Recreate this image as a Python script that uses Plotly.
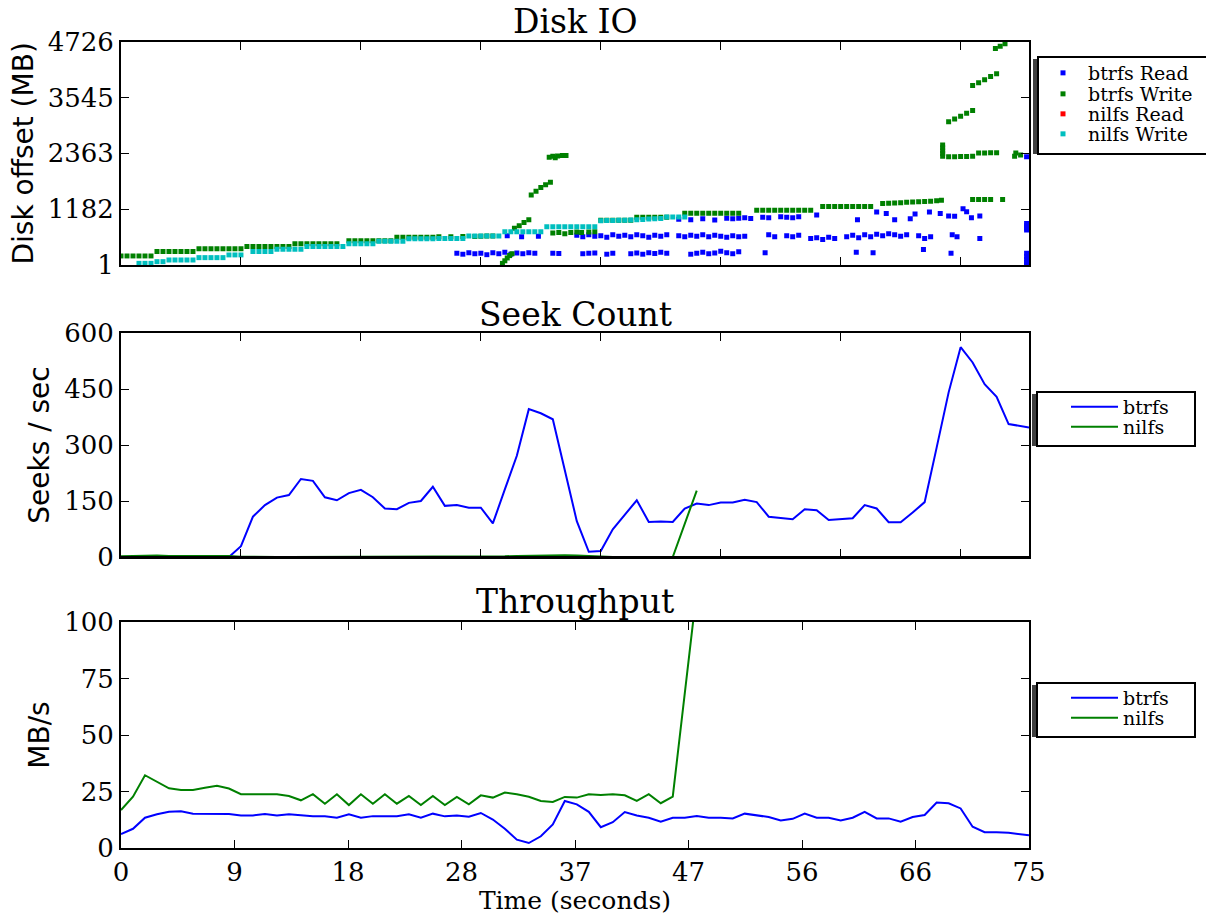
import plotly.graph_objects as go

# ---------------- data ----------------
T_END = 75.7  # last sample time (seconds)

# Seek count (seeks / sec), one sample per second
btrfs_seek_t = list(range(75)) + [T_END]
btrfs_seek = [0, 0, 0, 0, 0, 0, 0, 0, 0, 0,
              29, 108, 139, 159, 166, 209, 204, 160, 152, 171,
              180, 160, 130, 128, 145, 150, 188, 137, 139, 132,
              132, 90, 181, 271, 396, 385, 369, 231, 96, 14,
              16, 74, 114, 152, 94, 95, 94, 130, 143, 139,
              146, 146, 153, 147, 108, 105, 101, 128, 125, 99,
              102, 104, 139, 130, 93, 93, 119, 147, 293, 441,
              562, 521, 463, 429, 356, 347]
nilfs_seek_t = list(range(47)) + [48]
nilfs_seek = [2, 3, 4, 4, 3, 3, 2, 3, 4, 3,
              1, 0, 0, 0, 0, 0, 0, 0, 0, 0,
              0, 0, 0, 0, 0, 0, 0, 0, 0, 0,
              1, 2, 2, 3, 4, 5, 6, 5, 4, 2,
              0, 0, 0, 0, 0, 0, 0, 178]

# Throughput (MB/s)
btrfs_tput_t = list(range(75)) + [T_END]
btrfs_tput = [6.2, 8.5, 13.4, 14.9, 16.0, 16.3, 15.2, 15.2, 14.9, 15.0,
              14.4, 14.4, 15.0, 14.4, 14.9, 14.3, 14.0, 14.0, 13.4, 14.9,
              13.4, 14.1, 14.1, 14.1, 14.9, 13.4, 15.2, 14.0, 14.4, 13.8,
              15.5, 12.6, 8.5, 3.7, 2.2, 5.2, 10.4, 20.8, 19.3, 16.0,
              9.2, 11.4, 15.9, 14.4, 13.4, 11.6, 13.4, 13.4, 14.1, 13.4,
              13.4, 13.1, 15.2, 14.4, 13.7, 12.2, 12.9, 15.2, 13.4, 13.4,
              12.2, 13.4, 16.0, 13.1, 13.1, 11.6, 13.7, 14.6, 20.1, 19.8,
              17.5, 9.4, 7.0, 7.0, 6.7, 5.6]
nilfs_tput_t = list(range(47)) + [48]
nilfs_tput = [16.8, 22.7, 32.2, 29.3, 26.4, 25.7, 25.7, 26.7, 27.5, 26.3,
              23.8, 23.8, 23.8, 23.8, 23.0, 21.1, 23.8, 19.6, 23.8, 19.0,
              23.8, 19.6, 23.8, 19.6, 23.0, 19.0, 23.0, 19.0, 22.6, 19.3,
              23.3, 22.3, 24.5, 23.8, 22.7, 20.8, 20.4, 22.6, 22.3, 23.8,
              23.5, 23.8, 23.3, 20.8, 23.8, 19.8, 22.7, 114]

# Disk IO requests: (time s, disk offset MB)
btrfs_read_pts = [
    # lower band
    (28.0, 250), (28.5, 230), (29.0, 260), (29.5, 240), (30.0, 250), (30.5, 220),
    (31.0, 260), (31.5, 240), (32.0, 270), (32.5, 230), (33.0, 255), (33.5, 240),
    (34.0, 260), (34.5, 250), (36.0, 250), (36.5, 245), (38.5, 240), (39.0, 250),
    (39.5, 255), (40.5, 230), (41.0, 250), (42.5, 240), (43.0, 255), (43.5, 230),
    (44.0, 260), (44.5, 245), (45.0, 270), (45.5, 250), (47.5, 230), (48.0, 250),
    (48.5, 270), (49.0, 240), (49.5, 255), (50.0, 290), (50.5, 260), (51.0, 240),
    (51.5, 280), (53.7, 260), (61.3, 270), (62.7, 260), (66.9, 330), (69.2, 250),
    # middle band
    (32.2, 620), (33.4, 600), (34.8, 610), (38.0, 630), (38.5, 600), (39.0, 640),
    (39.5, 610), (40.0, 620), (40.5, 590), (41.0, 640), (41.5, 610), (42.0, 630),
    (42.5, 600), (43.0, 640), (43.5, 620), (44.0, 590), (44.5, 630), (45.0, 610),
    (45.5, 640), (46.5, 620), (47.0, 600), (47.5, 630), (48.0, 610), (48.5, 640),
    (49.0, 600), (49.5, 630), (50.0, 610), (50.5, 590), (51.0, 620), (51.5, 600),
    (52.0, 610), (54.0, 640), (54.5, 600), (55.5, 620), (56.0, 600), (56.5, 630),
    (57.5, 560), (58.0, 580), (58.5, 540), (59.0, 590), (59.5, 560), (60.5, 600),
    (61.0, 630), (61.5, 580), (62.0, 640), (62.5, 600), (63.0, 650), (63.5, 620),
    (64.0, 660), (64.5, 640), (65.0, 610), (65.5, 640), (66.5, 620), (67.0, 560),
    (67.5, 600), (69.3, 640), (69.7, 600), (71.6, 560),
    # upper band
    (46.5, 970), (47.5, 960), (48.5, 980), (49.5, 955), (50.5, 990), (51.0, 980),
    (51.5, 990), (52.0, 1000), (52.5, 985), (53.5, 1010), (54.0, 1000), (55.0, 1020),
    (55.5, 1010), (56.0, 1000), (56.5, 1020), (58.0, 1060), (61.4, 960), (63.0, 1120),
    (63.8, 1090), (64.5, 960), (65.8, 980), (66.2, 1080), (67.4, 1120), (68.3, 1090),
    (69.0, 1040), (69.5, 1030), (70.2, 1190), (70.5, 1130), (70.9, 1000), (71.6, 1040),
    # right edge
    (75.5, 880), (75.5, 830), (75.5, 780), (75.5, 740), (75.5, 250), (75.5, 180),
    (75.5, 120), (75.5, 60), (75.5, 10), (75.5, 2291),
]
btrfs_write_pts = [
    (0.0, 193), (0.5, 193), (1.0, 193), (1.5, 193), (2.0, 193), (2.5, 193),
    (3.0, 286), (3.5, 286), (4.0, 286), (4.5, 286), (5.0, 286), (5.5, 286), (6.0, 286),
    (6.5, 344), (7.0, 344), (7.5, 344), (8.0, 344), (8.5, 344), (9.0, 344), (9.5, 344), (10.0, 344),
    (10.5, 394), (11.0, 394), (11.5, 394), (12.0, 394), (12.5, 394), (13.0, 394), (13.5, 394), (14.0, 394),
    (14.5, 451), (15.0, 451), (15.5, 451), (16.0, 451), (16.5, 451), (17.0, 451), (17.5, 451), (18.0, 451),
    (19.0, 516), (19.5, 516), (20.0, 516), (20.5, 516), (21.0, 516), (21.5, 516), (22.0, 516), (22.5, 516),
    (23.0, 587), (23.5, 587), (24.0, 587), (24.5, 587), (25.0, 587), (25.5, 587), (26.0, 587),
    (26.5, 600), (27.5, 600), (28.5, 605), (29.5, 605), (30.0, 610), (30.5, 615), (31.0, 615),
    (31.8, 35), (32.0, 90), (32.2, 150), (32.4, 200), (32.6, 240),
    (32.8, 780), (33.2, 830), (33.6, 900), (34.0, 960),
    (34.2, 1480), (34.6, 1560), (35.0, 1640), (35.4, 1700), (35.8, 1750),
    (35.7, 2280), (36.0, 2300), (36.2, 2270), (36.4, 2310), (36.8, 2320), (37.1, 2320),
    (36.0, 680), (36.5, 690), (37.0, 660), (37.5, 690), (38.0, 700), (38.4, 690),
    (39.0, 700), (39.5, 705),
    (40.0, 950), (40.5, 950), (41.0, 950), (41.5, 950), (42.0, 950), (42.5, 950),
    (43.0, 1010), (43.5, 1010), (44.0, 1010), (44.5, 1010), (45.0, 1010), (45.5, 1010),
    (47.0, 1095), (47.5, 1095), (48.0, 1095), (48.5, 1095), (49.0, 1095), (49.5, 1095),
    (50.0, 1095), (50.5, 1095), (51.0, 1095), (51.5, 1095),
    (53.0, 1160), (53.5, 1160), (54.0, 1160), (54.5, 1160), (55.0, 1160), (55.5, 1160),
    (56.0, 1160), (56.5, 1160), (57.0, 1160), (57.5, 1160),
    (58.5, 1240), (59.0, 1240), (59.5, 1240), (60.0, 1240), (60.5, 1240), (61.0, 1240),
    (61.5, 1240), (62.0, 1240), (62.5, 1240),
    (63.5, 1300), (64.0, 1310), (64.5, 1315), (65.0, 1320), (65.5, 1330), (66.0, 1335),
    (66.5, 1340), (67.0, 1345), (67.5, 1350), (68.0, 1360), (68.4, 1370),
    (71.0, 1385), (71.5, 1385), (72.0, 1385), (72.5, 1385), (73.5, 1385),
    (68.5, 2540), (68.5, 2480), (68.5, 2420), (68.5, 2360), (68.5, 2300),
    (69.0, 2290), (69.5, 2290), (70.0, 2295), (70.5, 2295), (71.0, 2300),
    (71.5, 2370), (72.0, 2370), (72.5, 2375), (73.0, 2375),
    (74.5, 2300), (74.6, 2370), (75.0, 2330),
    (69.0, 3030), (69.5, 3090), (70.0, 3150), (70.5, 3210), (71.0, 3270),
    (71.0, 3800), (71.5, 3860), (72.0, 3920), (72.5, 3990), (73.0, 4050),
    (72.9, 4580), (73.3, 4630), (73.7, 4680),
]
nilfs_read_pts = []  # no nilfs reads were recorded
nilfs_write_pts = [
    (1.5, 36), (2.0, 36), (2.5, 36), (3.0, 72), (3.5, 72),
    (4.0, 107), (4.5, 107), (5.0, 107), (5.5, 107), (6.0, 107),
    (6.5, 157), (7.0, 157), (7.5, 157), (8.0, 157), (8.5, 157),
    (9.0, 215), (9.5, 215), (10.0, 215),
    (11.0, 286), (11.5, 286), (12.0, 286), (12.5, 286),
    (13.0, 336), (13.5, 336), (14.0, 336), (14.5, 336), (15.0, 336),
    (15.5, 394), (16.0, 394), (16.5, 394), (17.0, 394), (17.5, 394), (18.0, 394), (18.5, 394),
    (19.0, 451), (19.5, 451), (20.0, 451), (20.5, 451), (21.0, 451),
    (21.5, 501), (22.0, 501), (22.5, 501), (23.0, 501), (23.5, 501),
    (24.0, 558), (24.5, 558), (25.0, 558), (25.5, 558), (26.0, 558),
    (26.5, 562), (27.0, 562), (27.5, 562), (28.0, 562), (28.5, 562),
    (29.0, 612), (29.5, 612), (30.0, 612), (30.5, 612), (31.0, 612), (31.5, 612),
    (32.0, 703), (32.5, 703), (33.0, 703), (33.5, 703), (34.0, 703), (34.5, 703), (35.0, 703),
    (35.5, 808), (36.0, 808), (36.5, 808), (37.0, 808), (37.5, 808), (38.0, 808),
    (38.5, 808), (39.0, 808), (39.5, 808),
    (40.0, 935), (40.5, 940), (41.0, 945), (41.5, 948), (42.0, 950), (42.5, 955),
    (43.0, 960), (43.5, 965), (44.0, 972), (44.5, 978), (45.0, 984),
    (45.5, 1019), (46.0, 1019), (46.5, 1019), (47.0, 1019),
]

disk_ticks = [1, 1182, 2363, 3545, 4726]
seek_ticks = [0, 150, 300, 450, 600]
tput_ticks = [0, 25, 50, 75, 100]
top_xticks = [0, 10, 20, 30, 40, 50, 60, 70]
bottom_xtick_labels = ["0", "9", "18", "28", "37", "47", "56", "66", "75"]

# ---------------- figure ----------------
W, H = 1206, 915
L, R = 121, 1029
BLUE, GREEN, RED, CYAN = "#0000ff", "#008000", "#ff0000", "#00bfbf"
SERIF = "DejaVu Serif"
SANS = "DejaVu Sans"


def px_x(x):
    return (x - L) / (R - L)


def px_y(y):
    return 1 - y / H


def xs(pts):
    return [p[0] for p in pts] if pts else [None]


def ys(pts):
    return [p[1] for p in pts] if pts else [None]


fig = go.Figure()

disk_series = [("btrfs Read", btrfs_read_pts, BLUE, "legend"),
               ("btrfs Write", btrfs_write_pts, GREEN, "legend4"),
               ("nilfs Read", nilfs_read_pts, RED, "legend5"),
               ("nilfs Write", nilfs_write_pts, CYAN, "legend6")]
for name, pts, col, leg in disk_series:
    fig.add_trace(go.Scatter(
        x=xs(pts), y=ys(pts), name=name,
        mode="markers", marker=dict(symbol="square", size=5, color=col, line=dict(width=0)),
        xaxis="x", yaxis="y", legend=leg))

fig.add_trace(go.Scatter(x=btrfs_seek_t, y=btrfs_seek, name="btrfs", mode="lines",
                         line=dict(color=BLUE, width=2), xaxis="x2", yaxis="y2", legend="legend2"))
fig.add_trace(go.Scatter(x=nilfs_seek_t, y=nilfs_seek, name="nilfs", mode="lines",
                         line=dict(color=GREEN, width=2), xaxis="x2", yaxis="y2", legend="legend7"))
fig.add_trace(go.Scatter(x=btrfs_tput_t, y=btrfs_tput, name="btrfs", mode="lines",
                         line=dict(color=BLUE, width=2), xaxis="x3", yaxis="y3", legend="legend3"))
fig.add_trace(go.Scatter(x=nilfs_tput_t, y=nilfs_tput, name="nilfs", mode="lines",
                         line=dict(color=GREEN, width=2), xaxis="x3", yaxis="y3", legend="legend8"))

panels = [(41.7, 265), (333, 557), (622, 848)]

axis_common = dict(showline=True, linewidth=2, linecolor="black", mirror="ticks",
                   ticks="inside", ticklen=8, tickwidth=1, tickcolor="black",
                   showgrid=False, zeroline=False,
                   tickfont=dict(family=SERIF, size=26, color="black"))

bottom_xtickvals = [T_END * k / 8 for k in range(9)]

layout = dict(
    width=W, height=H, paper_bgcolor="white", plot_bgcolor="white",
    margin=dict(l=L, r=W - R, t=0, b=0, autoexpand=False),
    showlegend=True,
)
layout["xaxis"] = dict(axis_common, domain=[0, 1], range=[0, T_END], anchor="y",
                       tickvals=top_xticks, showticklabels=False)
layout["xaxis2"] = dict(axis_common, domain=[0, 1], range=[0, T_END], anchor="y2",
                        tickvals=top_xticks, showticklabels=False)
layout["xaxis3"] = dict(axis_common, domain=[0, 1], range=[0, T_END], anchor="y3",
                        tickvals=bottom_xtickvals, ticktext=bottom_xtick_labels,
                        title=dict(text="Time (seconds)", font=dict(family=SERIF, size=25, color="black"),
                                   standoff=2))
ytitles = ["Disk offset (MB)", "Seeks / sec", "MB/s"]
yranges = [[1, 4726], [0, 600], [0, 100]]
yticks = [disk_ticks, seek_ticks, tput_ticks]
for i, (top, bot) in enumerate(panels):
    key = "yaxis" if i == 0 else f"yaxis{i + 1}"
    layout[key] = dict(axis_common, domain=[px_y(bot), px_y(top)], range=yranges[i],
                       anchor="x" if i == 0 else f"x{i + 1}", tickvals=yticks[i],
                       ticktext=[str(v) for v in yticks[i]],
                       title=dict(text=ytitles[i], font=dict(family=SANS, size=28, color="black"),
                                  standoff=6))

fig.update_layout(**layout)

# bottom spine of the seek panel drawn over the zero-valued lines (as a spine would)
fig.add_shape(type="line", xref="x2 domain", yref="y2 domain", x0=0, x1=1, y0=0, y1=0,
              line=dict(color="black", width=2), layer="above")

# subplot titles
for txt, yc in [("Disk IO", 22), ("Seek Count", 315), ("Throughput", 601)]:
    fig.add_annotation(text=txt, x=0.5, y=px_y(yc), xref="paper", yref="paper",
                       showarrow=False, xanchor="center", yanchor="middle",
                       font=dict(family=SERIF, size=33, color="black"))

# legend boxes with shadow
boxes = [(1038, 57, 1212, 154), (1037, 392, 1195, 446), (1037, 683, 1195, 737)]
for (x0, y0, x1, y1) in boxes:
    fig.add_shape(type="rect", xref="paper", yref="paper",
                  x0=px_x(x0 - 5), x1=px_x(x1 - 5), y0=px_y(y1), y1=px_y(y0 + 2),
                  fillcolor="#404040", line=dict(width=0), layer="above")
    fig.add_shape(type="rect", xref="paper", yref="paper",
                  x0=px_x(x0), x1=px_x(x1), y0=px_y(y1), y1=px_y(y0),
                  fillcolor="white", line=dict(color="black", width=2), layer="above")

leg_font = dict(family=SERIF, size=19, color="black")


def legend_at(x_left, y_center, itemwidth):
    return dict(x=px_x(x_left), y=px_y(y_center), xanchor="left", yanchor="middle",
                bgcolor="rgba(0,0,0,0)", borderwidth=0, font=leg_font,
                itemsizing="trace", itemwidth=itemwidth)


fig.update_layout(
    legend=legend_at(1038, 73, 40),
    legend4=legend_at(1038, 94, 40),
    legend5=legend_at(1038, 114, 40),
    legend6=legend_at(1038, 134, 40),
    legend2=legend_at(1066, 407, 47),
    legend7=legend_at(1066, 427, 47),
    legend3=legend_at(1066, 698, 47),
    legend8=legend_at(1066, 718, 47),
)

fig.write_html("out.html")
